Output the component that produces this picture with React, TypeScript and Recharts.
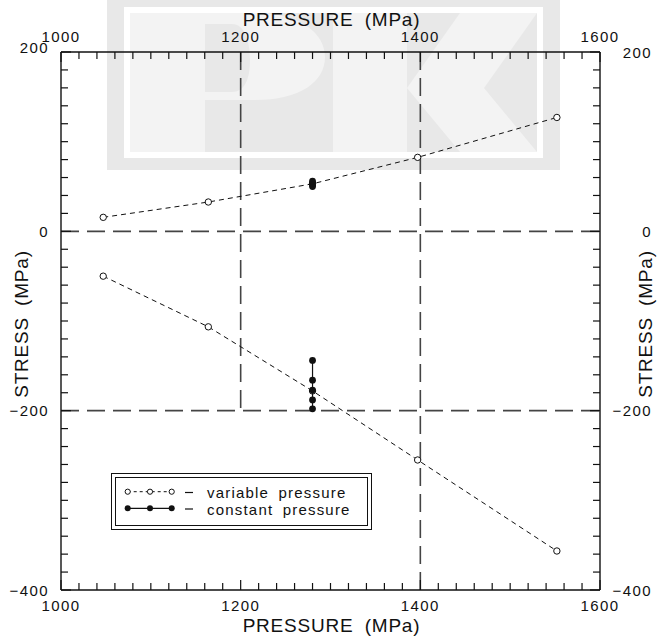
import React from 'react';
import { ScatterChart, Scatter, XAxis, YAxis, ReferenceLine, Legend, Label } from 'recharts';

// pressure (MPa) vs stress (MPa)
const pressureLabels = [1000, 1200, 1400, 1600];
const stressLabels = [-400, -200, 0, 200];
const pressureTicks = Array.from({ length: 31 }, (_, i) => 1000 + i * 20);
const stressTicks = Array.from({ length: 31 }, (_, i) => -400 + i * 20);

const variablePressure = [1047, 1164, 1280, 1397, 1552];
const variableStressUpper = [15.6, 32.7, 53, 82.5, 127];
const variableStressLower = [-50, -106.5, -178, -255, -356.5];

const constantPressureUpper = [1280, 1280, 1280, 1280];
const constantStressUpper = [50, 52, 54, 56];
const constantPressureLower = [1280, 1280, 1280, 1280, 1280];
const constantStressLower = [-198, -188, -177, -166, -144];

const toPoints = (xs: number[], ys: number[]) => xs.map((x, i) => ({ x, y: ys[i] }));

const varUpper = toPoints(variablePressure, variableStressUpper);
const varLower = toPoints(variablePressure, variableStressLower);
const constUpper = toPoints(constantPressureUpper, constantStressUpper);
const constLower = toPoints(constantPressureLower, constantStressLower);

const FONT = '"Liberation Sans", Arial, sans-serif';
const INK = '#111';

const fmt = (v: number) => (v < 0 ? `\u2212${-v}` : `${v}`);

type Side = 'top' | 'bottom' | 'left' | 'right';

function makeTick(side: Side, majors: number[]) {
  return (props: any) => {
    const { x, y, payload } = props;
    const v = payload.value;
    const major = majors.includes(v);
    const len = major ? 10 : 7;
    const txt = { fontFamily: FONT, fontSize: 15, letterSpacing: 1.4, fill: INK };
    let line: React.ReactNode = null;
    let label: React.ReactNode = null;
    if (side === 'bottom') {
      line = <line x1={x} y1={y} x2={x} y2={y - len} />;
      if (major) label = <text x={x} y={y + 21} textAnchor="middle" {...txt}>{fmt(v)}</text>;
    } else if (side === 'top') {
      line = <line x1={x} y1={y} x2={x} y2={y + len} />;
      if (major) label = <text x={x} y={y - 10} textAnchor="middle" {...txt}>{fmt(v)}</text>;
    } else if (side === 'left') {
      line = <line x1={x} y1={y} x2={x + len} y2={y} />;
      if (major) label = <text x={x - 12} y={y + 5.5 - (v === 200 ? 4.5 : 0)} textAnchor="end" {...txt}>{fmt(v)}</text>;
    } else {
      line = <line x1={x} y1={y} x2={x - len} y2={y} />;
      if (major) label = <text x={x + 52} y={y + 5.5} textAnchor="end" {...txt}>{fmt(v)}</text>;
    }
    return (
      <g>
        <g stroke={INK} strokeWidth={1.2}>{line}</g>
        {label}
      </g>
    );
  };
}

const titleStyle = { fontFamily: FONT, fontSize: 19, letterSpacing: 0.8, wordSpacing: 5, fill: INK };

const title = (side: Side, text: string) => (props: any) => {
  const vb = props.viewBox;
  if (side === 'top' || side === 'bottom') {
    const cx = vb.x + vb.width / 2 + 1;
    const by = side === 'top' ? vb.y + 26 : vb.y + 42;
    return <text x={cx} y={by} textAnchor="middle" {...titleStyle}>{text}</text>;
  }
  const bx = side === 'left' ? vb.x + 28 : vb.x + 52;
  const cy = vb.y + vb.height / 2 + 3;
  return (
    <text x={bx} y={cy} textAnchor="middle" transform={`rotate(-90, ${bx}, ${cy})`} {...titleStyle}>
      {text}
    </text>
  );
};

const OpenDot = (props: any) => (
  <circle cx={props.cx} cy={props.cy} r={3.2} fill="#fff" stroke={INK} strokeWidth={1} />
);
const FilledDot = (props: any) => <circle cx={props.cx} cy={props.cy} r={3.4} fill={INK} />;

const legendText = { fontFamily: FONT, fontSize: 15, letterSpacing: 1.2, wordSpacing: 4, fill: INK };

const renderLegend = () => (
  <div
    style={{
      boxSizing: 'border-box',
      width: 261,
      height: 57,
      border: '1.5px solid #111',
      padding: '3px 3px',
      background: '#fff',
    }}
  >
    <div style={{ boxSizing: 'border-box', width: '100%', height: '100%', border: '1px solid #111' }}>
      <svg width={250} height={46} style={{ display: 'block' }}>
        <line x1={11.7} y1={13.7} x2={55.7} y2={13.7} stroke={INK} strokeWidth={1} strokeDasharray="3 3" />
        {[11.7, 34, 55.7].map((cx) => (
          <circle key={cx} cx={cx} cy={13.7} r={2.6} fill="#fff" stroke={INK} strokeWidth={1} />
        ))}
        <line x1={11.7} y1={30.3} x2={55.7} y2={30.3} stroke={INK} strokeWidth={1.2} />
        {[11.7, 34, 55.7].map((cx) => (
          <circle key={cx} cx={cx} cy={30.3} r={3} fill={INK} />
        ))}
        <line x1={69} y1={14.5} x2={77} y2={14.5} stroke={INK} strokeWidth={1.2} />
        <line x1={69} y1={31} x2={77} y2={31} stroke={INK} strokeWidth={1.2} />
        <text x={91} y={19.5} {...legendText}>variable pressure</text>
        <text x={91} y={36.5} {...legendText}>constant pressure</text>
      </svg>
    </div>
  </div>
);

function Watermark() {
  return (
    <svg width={657} height={638} style={{ position: 'absolute', left: 0, top: 0 }}>
      <rect x={107} y={0} width={453} height={170} fill="#e8e8e8" />
      <rect x={127} y={10} width={413} height={145} fill="none" stroke="#fff" strokeWidth={6} />
      <path
        fillRule="evenodd"
        fill="#f3f3f3"
        d="M130 13 L255 13 C300 13 325 33 325 57 C325 82 300 100 255 100 L205 100 L205 152 L130 152 Z
           M205 24 L232 24 C244 24 250 40 250 60 C250 80 244 92 232 92 L205 92 Z"
      />
      <rect x={333} y={13} width={74} height={139} fill="#f3f3f3" />
      <polygon points="407,88 460,13 537,13 484,88" fill="#f3f3f3" />
      <polygon points="407,88 484,88 537,152 460,152" fill="#f3f3f3" />
    </svg>
  );
}

export default function App() {
  const axisLine = { stroke: INK, strokeWidth: 1.4 };
  const grid = { stroke: '#444', strokeWidth: 1.6, strokeDasharray: '18 8' };
  return (
    <div style={{ position: 'absolute', left: 0, top: 0, width: 657, height: 638, background: '#fff' }}>
      <Watermark />
      <div style={{ position: 'relative' }}>
        <ScatterChart width={657} height={638} margin={{ top: 0, right: 0, bottom: 0, left: 0 }}>
          <XAxis
            xAxisId="b"
            type="number"
            dataKey="x"
            orientation="bottom"
            domain={[1000, 1600]}
            ticks={pressureTicks}
            interval={0}
            height={48}
            tickSize={0}
            tickMargin={0}
            tickLine={false}
            axisLine={axisLine}
            tick={makeTick('bottom', pressureLabels)}
            allowDataOverflow
          >
            <Label content={title('bottom', 'PRESSURE (MPa)')} />
          </XAxis>
          <XAxis
            xAxisId="t"
            type="number"
            dataKey="x"
            orientation="top"
            domain={[1000, 1600]}
            ticks={pressureTicks}
            interval={0}
            height={52}
            tickSize={0}
            tickMargin={0}
            tickLine={false}
            axisLine={axisLine}
            tick={makeTick('top', pressureLabels)}
            allowDataOverflow
          >
            <Label content={title('top', 'PRESSURE (MPa)')} />
          </XAxis>
          <YAxis
            yAxisId="l"
            type="number"
            dataKey="y"
            orientation="left"
            domain={[-400, 200]}
            ticks={stressTicks}
            interval={0}
            width={61}
            tickSize={0}
            tickMargin={0}
            tickLine={false}
            axisLine={axisLine}
            tick={makeTick('left', stressLabels)}
            allowDataOverflow
          >
            <Label content={title('left', 'STRESS (MPa)')} />
          </YAxis>
          <YAxis
            yAxisId="r"
            type="number"
            dataKey="y"
            orientation="right"
            domain={[-400, 200]}
            ticks={stressTicks}
            interval={0}
            width={57}
            tickSize={0}
            tickMargin={0}
            tickLine={false}
            axisLine={axisLine}
            tick={makeTick('right', stressLabels)}
            allowDataOverflow
          >
            <Label content={title('right', 'STRESS (MPa)')} />
          </YAxis>

          <ReferenceLine xAxisId="b" yAxisId="l" y={0} {...grid} />
          <ReferenceLine xAxisId="b" yAxisId="l" y={-200} {...grid} />
          <ReferenceLine xAxisId="b" yAxisId="l" x={1400} {...grid} />
          <ReferenceLine
            xAxisId="b"
            yAxisId="l"
            segment={[{ x: 1200, y: 200 }, { x: 1200, y: -200 }]}
            {...grid}
          />

          <Scatter
            xAxisId="t"
            yAxisId="r"
            data={varUpper}
            shape={() => <g />}
            legendType="none"
            isAnimationActive={false}
          />
          <Scatter
            name="variable pressure"
            xAxisId="b"
            yAxisId="l"
            data={varUpper}
            line={{ stroke: INK, strokeWidth: 1, strokeDasharray: '5 4' }}
            shape={OpenDot}
            isAnimationActive={false}
          />
          <Scatter
            name="variable pressure lower"
            xAxisId="b"
            yAxisId="l"
            data={varLower}
            line={{ stroke: INK, strokeWidth: 1, strokeDasharray: '5 4' }}
            shape={OpenDot}
            isAnimationActive={false}
          />
          <Scatter
            name="constant pressure"
            xAxisId="b"
            yAxisId="l"
            data={constUpper}
            line={{ stroke: INK, strokeWidth: 1.2 }}
            shape={FilledDot}
            isAnimationActive={false}
          />
          <Scatter
            name="constant pressure lower"
            xAxisId="b"
            yAxisId="l"
            data={constLower}
            line={{ stroke: INK, strokeWidth: 1.2 }}
            shape={FilledDot}
            isAnimationActive={false}
          />
          <Legend
            layout="vertical"
            align="center"
            verticalAlign="middle"
            content={renderLegend}
            wrapperStyle={{ left: 111, top: 473, width: 261, height: 57 }}
          />
        </ScatterChart>
      </div>
    </div>
  );
}
